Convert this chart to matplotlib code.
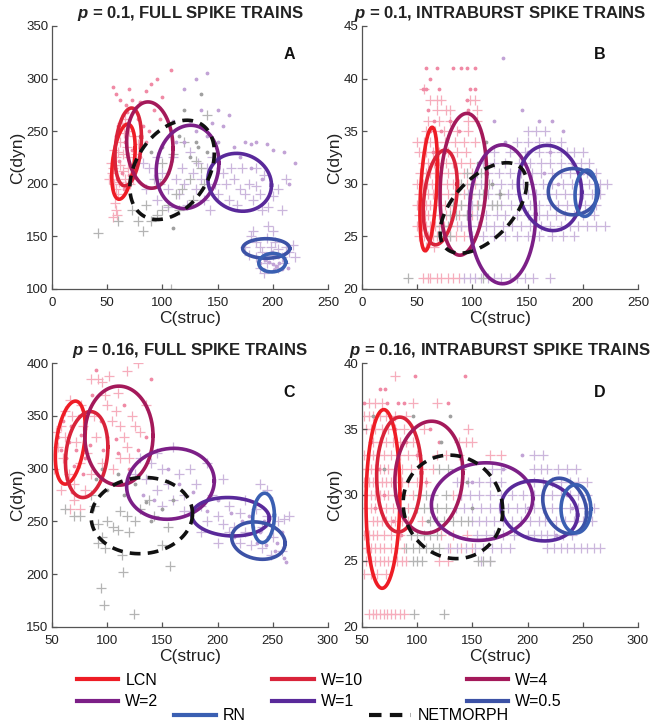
import numpy as np
import matplotlib
matplotlib.use("Agg")
import matplotlib.pyplot as plt
from matplotlib.lines import Line2D

plt.rcParams['font.family'] = ['Liberation Sans', 'DejaVu Sans']
plt.rcParams['mathtext.fontset'] = 'custom'
plt.rcParams['mathtext.it'] = 'Liberation Sans:italic:bold'
plt.rcParams['mathtext.rm'] = 'Liberation Sans:bold'

# ---- series / legend ----
names = ['LCN', 'W=10', 'W=4', 'W=2', 'W=1', 'W=0.5', 'RN', 'NETMORPH']
colors = ['#ee1c25', '#d9233a', '#a4195a', '#7c1f87', '#59299a', '#3c52a6', '#3a5fb2', '#111111']

# ellipse params per panel: centre x, centre y, half-range x, half-range y, correlation
# order follows `names`
ell_a = dict(cx=[64.7, 69.0, 88.6, 122.8, 170.0, 194.0, 199.5, 108.8],
             cy=[221.0, 235.0, 236.8, 216.0, 201.4, 138.5, 125.0, 213.2],
             sx=[10.6, 12.0, 21.0, 28.4, 28.8, 21.3, 12.2, 38.3],
             sy=[35.7, 37.0, 41.0, 39.6, 27.5, 9.3, 8.8, 47.2],
             rho=[0.37, 0.25, -0.08, 0.1, -0.1, 0.0, 0.05, 0.35])
ell_b = dict(cx=[60.4, 70.9, 91.8, 127.3, 170.3, 191.4, 202.8, 110.0],
             cy=[29.5, 28.7, 29.95, 27.1, 29.6, 29.25, 29.1, 27.7],
             sx=[7.9, 15.4, 21.1, 30.0, 28.7, 22.6, 9.8, 39.2],
             sy=[5.87, 4.5, 6.74, 6.6, 4.05, 2.2, 2.2, 4.3],
             rho=[0.4, 0.28, 0.15, 0.0, -0.1, 0.0, 0.1, 0.54])
ell_c = dict(cx=[66.6, 81.4, 110.6, 157.3, 211.8, 237.0, 241.6, 131.4],
             cy=[324.6, 313.3, 331.2, 285.6, 254.4, 231.8, 253.3, 255.5],
             sx=[13.6, 19.2, 30.9, 39.7, 35.1, 24.2, 9.85, 45.9],
             sy=[39.3, 40.7, 46.9, 33.6, 18.2, 17.7, 23.4, 36.1],
             rho=[0.34, 0.18, 0.0, 0.08, -0.08, -0.15, 0.1, 0.05])
ell_d = dict(cx=[69.0, 83.6, 110.6, 158.8, 210.7, 233.6, 243.8, 132.4],
             cy=[29.7, 31.55, 31.35, 29.5, 28.8, 29.17, 28.95, 29.1],
             sx=[15.35, 20.3, 30.8, 45.9, 34.6, 19.85, 13.5, 45.1],
             sy=[6.77, 4.35, 4.24, 2.94, 2.28, 2.1, 1.83, 3.92],
             rho=[0.05, 0.03, 0.08, 0.08, -0.14, -0.25, 0.0, -0.07])

# ---- panel A scatter (x, y) ----
a_pink_plus = [(52,205),(54,210),(56,200),(55,215),(58,225),(60,230),(62,218),(64,212),(66,205),(58,195),
               (60,190),(62,240),(65,248),(68,235),(70,225),(72,215),(57,182),(58,175),(59,170),(55,168),
               (63,258),(66,262),(70,250),(74,245),(61,202),(67,198),(73,205),(76,228),(78,238),(64,228),
               (69,215),(71,200),(53,220),(56,232)]
a_pink_dot = [(55,292),(58,285),(62,280),(67,275),(70,290),(72,280),(75,272),(80,278),(85,288),(90,295),
              (95,300),(100,282),(64,265),(60,255),(68,268),(78,262),(82,255),(58,245),(66,240),(72,232),
              (61,222),(63,210),(59,205),(65,195),(70,208),(75,218),(80,225),(88,250),(92,270),(85,240),
              (108,308),(98,262)]
a_lav_plus = [(82,220),(88,215),(92,205),(95,225),(98,200),(100,210),(105,195),(110,225),(112,205),(115,190),
              (118,215),(120,200),(125,230),(128,210),(130,195),(132,220),(135,205),(138,185),(140,215),(145,225),
              (148,200),(150,190),(155,210),(158,200),(160,185),(165,205),(170,195),(172,215),(175,190),(178,200),
              (182,185),(185,198),(188,190),(190,175),(192,208),(196,178),(200,188),(205,195),(208,175),(212,205),
              (85,195),(95,185),(105,178),(122,180),(143,175),(162,215),(168,180),(185,215),
              (180,150),(185,145),(188,140),(190,135),(192,130),(195,125),(198,140),(200,132),(202,145),(205,138),
              (208,130),(210,125),(212,140),(215,135),(218,142),(185,130),(188,120),(192,115),(196,160),(200,155),
              (175,140),(178,132),(205,120),(220,130),(182,155),(195,148)]
a_lav_dot = [(120,290),(130,300),(140,305),(150,270),(155,255),(160,265),(175,240),(180,238),(185,240),(195,238),
             (210,230),(220,220),(215,200),(140,245),(135,270),(125,260),(150,240),(145,258),(165,235),(200,232),
             (190,205),(180,215),(170,225),(150,215),(130,250),(112,240),(110,260),(120,240),
             (190,130),(193,128),(197,126),(200,124),(203,122),(206,125),(210,128),(214,120),(195,133),(199,135),
             (205,130),(188,125),(201,118),(208,119)]
a_gray_plus = [(42,153),(108,100),(60,165),(78,165),(82,155),(90,165),(95,170),(100,175),(105,180),(112,190),
               (118,195),(125,205),(130,222),(135,215),(140,265),(120,240),(110,228),(100,220),(85,180),(72,175),
               (115,175),(128,185),(138,200),(95,205)]
a_gray_dot = [(110,158),(135,285),(120,270),(115,245),(100,235),(125,225),(105,210),(130,240),(90,230),(80,245),
              (140,230),(132,235)]

# ---- panel B scatter: rows y -> x values ----
b_pink_rows = {21: [55,60,62,68,72,78,82,88], 24: [58,65],
               25: [52,56,60,64,68,75,80,85,92], 26: [50,54,58,62,66,70,74,80,86,90,96],
               27: [52,57,60,65,70,76,82,88,95,100], 28: [50,55,58,62,66,70,75,80,85,90,98,104],
               29: [52,56,60,64,68,72,78,84,92,100], 30: [50,55,59,63,67,72,77,82,88,95,102],
               31: [53,58,62,66,72,78,85,92,100], 32: [55,60,65,70,76,82,90,98],
               33: [52,58,64,70,78,86,94], 34: [50,56,62,68,75,84,92,102],
               35: [58,66,74,86,96], 36: [60,70,80,96,104], 37: [68,76,80,104],
               38: [62,68,72,98,102], 39: [56]}
b_pink_dot = [(55,39),(58,39),(62,40),(58,41),(68,41),(70,39),(82,41),(90,41),(95,41),(98,39),(102,39),
              (102,41),(95,38),(60,37),(65,36),(72,35),(62,35),(80,36),(64,33),(75,33),(96,37),(88,35)]
b_lav_rows = {21: [92,98,102,108,114,120,126,134,140,148,155,170],
              25: [100,110,120,130,140,150,160,172,182,192],
              26: [90,98,105,112,120,128,136,144,152,162,170,180,188,196,204,212,220],
              27: [95,104,112,122,130,140,150,160,168,176,184,192,200,210],
              28: [100,110,118,126,135,144,152,160,170,178,186,194,202,212],
              29: [96,106,114,124,132,142,150,158,168,176,184,192,200,208,216],
              30: [100,108,118,126,136,146,154,164,172,182,190,198,206,216,222],
              31: [104,114,124,134,144,154,162,172,180,188,196,204,212],
              32: [110,120,130,142,152,162,170,180,190,198,206],
              33: [120,134,148,160,170,180,186,192,200], 34: [140,150,160,170,180],
              35: [150,158,166]}
b_lav_dot = [(128,42),(145,37),(160,36),(172,36),(182,35),(130,34),(120,36),(150,33),(170,33),(190,32),
             (200,31),(165,31),(178,30)]
b_gray_rows = {21: [42,110], 25: [70,80], 26: [72,78], 27: [80,85,95], 28: [82,90,105,118,122],
               29: [85,98,110,125], 30: [90,100,115], 31: [95,108]}
b_gray_dot = [(112,34),(105,32),(118,30),(98,27),(125,29)]

# ---- panel C scatter (x, y) ----
c_pink_plus = [(52,300),(55,320),(58,340),(60,310),(62,330),(65,295),(68,350),(70,285),(72,325),(75,305),
               (78,340),(80,280),(82,315),(85,295),(88,350),(90,330),(92,385),(95,382),(98,370),(100,360),
               (104,345),(108,355),(112,340),(115,330),(118,320),(120,310),(122,350),(105,300),(95,305),(110,372),
               (102,388),(118,392),(128,400),(85,385),(70,270),(75,262),(66,262),(58,280),(54,335),(62,355),
               (66,365),(76,360),(112,310),(125,340),(130,335),(135,360)]
c_pink_dot = [(55,330),(58,318),(60,345),(63,310),(65,325),(67,340),(70,302),(72,318),(74,350),(76,332),
              (78,295),(80,310),(84,322),(86,370),(90,393),(94,345),(100,330),(108,328),(115,360),(120,300),
              (135,330),(140,385),(128,318),(64,290),(68,278),(96,318),(110,315)]
c_lav_plus = [(125,295),(130,310),(135,290),(140,305),(145,280),(150,300),(155,285),(160,270),(165,295),(170,275),
              (175,260),(180,285),(185,265),(190,250),(195,275),(200,255),(205,248),(210,265),(215,245),(220,258),
              (225,240),(230,250),(235,262),(240,245),(245,255),(250,235),(255,250),(260,252),(265,255),(238,285),
              (245,280),(220,230),(230,228),(240,225),(248,218),(258,222),(175,300),(190,305),(205,290),(145,315),
              (160,320),(200,230),(185,240),(210,240),(225,270),(170,260),(150,265)]
c_lav_dot = [(120,290),(132,275),(142,270),(155,300),(165,285),(178,278),(190,260),(200,270),(212,258),(222,250),
             (232,245),(238,240),(242,250),(246,235),(250,245),(254,230),(258,240),(236,230),(244,228),(252,222),
             (260,215),(262,212),(215,235),(228,255),(248,272)]
c_gray_plus = [(62,262),(70,255),(75,255),(85,275),(88,265),(92,248),(95,235),(98,225),(100,250),(105,245),
               (110,242),(112,260),(118,255),(120,240),(125,250),(130,262),(138,270),(142,255),(150,228),(155,245),
               (94,187),(97,171),(124,162),(114,202),(157,208),(92,230),(113,218)]
c_gray_dot = [(90,290),(100,280),(115,275),(125,285),(135,268),(150,262),(160,270),(110,295),(95,300),(140,250)]

# ---- panel D scatter: rows y -> x values ----
d_pink_rows = {21: [56,60,63,66,70,73,76,80,84,88], 24: [52,58,64,72],
               25: [50,54,58,62,66,70,74,78,82,86,90,120,128],
               26: [50,54,58,62,66,70,76,82,88,130,140,150],
               27: [52,56,60,64,70,76,84,122,132,145],
               28: [60,64,68,72,76,80,86,92,104],
               29: [50,54,58,62,66,72,78,84,92],
               30: [50,54,58,62,66,70,74,80,86,96,132,140],
               31: [52,56,60,64,68,72,76,80,86,92,100,108],
               32: [50,54,58,62,66,70,74,80,86,94,104,114],
               33: [52,56,60,64,70,76,84,92,100,118,126,138,166,176],
               34: [60,66,72,78,84,90,96,138,144,150],
               35: [50,54,58,62,68,74,80,88,106,146],
               36: [52,56,60,66,72,80,90], 37: [56,62,68,96,118], 39: [80]}
d_pink_dot = [(52,37),(73,37),(83,37),(88,37),(128,37),(66,38),(71,38),(98,39),(143,39),(75,36),(80,35),
              (90,34),(100,33),(58,34),(65,32),(70,30),(78,28),(85,27),(62,29),(108,31),(112,35),(120,34)]
d_lav_rows = {25: [158,166],
              26: [128,136,144,152,160,168,176,184,218,224,230,236,242,248,254,260,266],
              27: [154,162,170,178,188,200,206,212,218,224,232,240],
              28: [150,156,162,170,178,186,194,202,210,216,226,234,242,250,258],
              29: [135,142,150,158,166,174,182,190,198,206,214,222,230,238,246,254,260],
              30: [140,148,156,166,176,186,196,206,214,222,230,238,246,254],
              31: [136,146,156,166,176,206,214,222,230,238,246,254],
              32: [168,176,206,212,218,228,236,244], 33: [206,214]}
d_lav_dot = [(150,31),(178,32),(195,33),(236,30),(245,28),(240,29),(226,27),(218,31),(200,29)]
d_gray_rows = {21: [97,124], 25: [96,100,104,155,160,166], 26: [90,96,102,108,114,120],
               27: [94,100,106,112,118], 28: [112,118,124,132,140,146],
               29: [100,106,112,118,126], 30: [102,108,114,126], 32: [120,128,140]}
d_gray_dot = [(60,36),(70,32),(80,30),(122,34),(130,36),(145,31),(110,28),(96,36),(150,29)]

PINK, LAV, GRAY = '#f6adbc', '#cbb6dc', '#b4b4b4'
PINK_D, LAV_D, GRAY_D = '#f08aa5', '#c2a3d6', '#a0a0a0'


def rows_to_pts(rows):
    return [(x, y) for y, xs in rows.items() for x in xs]


def scatter(ax, pts, color, marker):
    xs = [p[0] for p in pts]
    ys = [p[1] for p in pts]
    if marker == '+':
        ax.plot(xs, ys, '+', color=color, ms=7, mew=0.9, zorder=1)
    else:
        ax.plot(xs, ys, '.', color=color, ms=3.5, zorder=1)


def ellipses(ax, ell):
    t = np.linspace(0, 2 * np.pi, 200)
    for i, name in enumerate(names):
        phi = np.arccos(ell['rho'][i])
        x = ell['cx'][i] + ell['sx'][i] * np.cos(t)
        y = ell['cy'][i] + ell['sy'][i] * np.cos(t + phi)
        if name == 'NETMORPH':
            ax.plot(x, y, color=colors[i], lw=2.6, ls=(0, (3, 2)), zorder=3)
        else:
            ax.plot(x, y, color=colors[i], lw=2.6, zorder=2)


def style(ax, xlim, ylim, xt, yt, title, letter):
    ax.set_xlim(xlim)
    ax.set_ylim(ylim)
    ax.set_xticks(xt)
    ax.set_yticks(yt)
    for s in ['top', 'right']:
        ax.spines[s].set_visible(False)
    for s in ['left', 'bottom']:
        ax.spines[s].set_color('#555555')
        ax.spines[s].set_linewidth(0.9)
    ax.tick_params(direction='in', length=3.5, width=0.9, color='#555555',
                   labelsize=9.5, labelcolor='#222222')
    ax.tick_params(axis='x', pad=6)
    ax.tick_params(axis='y', pad=2.5)
    ax.set_xlabel('C(struc)', fontsize=12.5, color='#222222', labelpad=1)
    ax.set_ylabel('C(dyn)', fontsize=12.5, color='#222222', labelpad=1)
    ax.set_title(title, fontsize=12, fontweight='bold', color='#222222', pad=6)
    ax.text(0.86, 0.89, letter, transform=ax.transAxes, fontsize=11.5,
            fontweight='bold', ha='center', va='center', color='#111111')


fig = plt.figure(figsize=(6.56, 7.25), dpi=100)
axA = fig.add_axes([0.0793, 0.6014, 0.4207, 0.3628])
axB = fig.add_axes([0.5518, 0.6014, 0.4207, 0.3628])
axC = fig.add_axes([0.0793, 0.1352, 0.4207, 0.3641])
axD = fig.add_axes([0.5518, 0.1352, 0.4207, 0.3641])

# A
scatter(axA, a_pink_plus, PINK, '+'); scatter(axA, a_lav_plus, LAV, '+'); scatter(axA, a_gray_plus, GRAY, '+')
scatter(axA, a_pink_dot, PINK_D, '.'); scatter(axA, a_lav_dot, LAV_D, '.'); scatter(axA, a_gray_dot, GRAY_D, '.')
ellipses(axA, ell_a)
style(axA, (0, 250), (100, 350), range(0, 251, 50), range(100, 351, 50),
      r'$p$ = 0.1, FULL SPIKE TRAINS', 'A')

# B
scatter(axB, rows_to_pts(b_pink_rows), PINK, '+'); scatter(axB, rows_to_pts(b_lav_rows), LAV, '+')
scatter(axB, rows_to_pts(b_gray_rows), GRAY, '+')
scatter(axB, b_pink_dot, PINK_D, '.'); scatter(axB, b_lav_dot, LAV_D, '.'); scatter(axB, b_gray_dot, GRAY_D, '.')
ellipses(axB, ell_b)
style(axB, (0, 250), (20, 45), range(0, 251, 50), range(20, 46, 5),
      r'$p$ = 0.1, INTRABURST SPIKE TRAINS', 'B')

# C
scatter(axC, c_pink_plus, PINK, '+'); scatter(axC, c_lav_plus, LAV, '+'); scatter(axC, c_gray_plus, GRAY, '+')
scatter(axC, c_pink_dot, PINK_D, '.'); scatter(axC, c_lav_dot, LAV_D, '.'); scatter(axC, c_gray_dot, GRAY_D, '.')
ellipses(axC, ell_c)
style(axC, (50, 300), (150, 400), range(50, 301, 50), range(150, 401, 50),
      r'$p$ = 0.16, FULL SPIKE TRAINS', 'C')

# D
scatter(axD, rows_to_pts(d_pink_rows), PINK, '+'); scatter(axD, rows_to_pts(d_lav_rows), LAV, '+')
scatter(axD, rows_to_pts(d_gray_rows), GRAY, '+')
scatter(axD, d_pink_dot, PINK_D, '.'); scatter(axD, d_lav_dot, LAV_D, '.'); scatter(axD, d_gray_dot, GRAY_D, '.')
ellipses(axD, ell_d)
style(axD, (50, 300), (20, 40), range(50, 301, 50), range(20, 41, 5),
      r'$p$ = 0.16, INTRABURST SPIKE TRAINS', 'D')

# legend: three two-row columns, then RN / NETMORPH row
handles = {}
for n, c in zip(names, colors):
    ls = (0, (3, 2)) if n == 'NETMORPH' else '-'
    handles[n] = Line2D([], [], color=c, lw=3, ls=ls)

leg_kw = dict(frameon=False, fontsize=11.5, handlelength=2.6, handletextpad=0.45,
              borderpad=0, borderaxespad=0, labelspacing=0.4, loc='center left')
for col, x0 in [(['LCN', 'W=2'], 76.7), (['W=10', 'W=1'], 272.3), (['W=4', 'W=0.5'], 466.7)]:
    fig.legend([handles[n] for n in col], col, bbox_to_anchor=(x0 / 656, 1 - 691.2 / 725), **leg_kw)
for n, x0 in [('RN', 174.3), ('NETMORPH', 369.3)]:
    fig.legend([handles[n]], [n], bbox_to_anchor=(x0 / 656, 1 - 716 / 725), **leg_kw)

fig.savefig('out.png', dpi=100)
